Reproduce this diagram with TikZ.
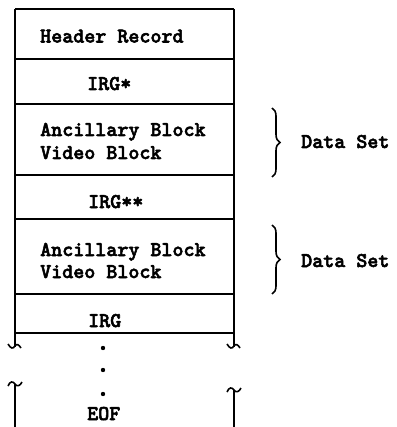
\documentclass[tikz,border=0pt]{standalone}
\usepackage{fontspec}
\newfontfamily\tapefont{lmmonolt10-bold.otf}[FakeBold=2.5]
\usetikzlibrary{decorations.pathreplacing}

\tikzset{
  side/.style={line width=1.8pt},
  rule/.style={line width=1.3pt},
  lbl/.style={anchor=base west, inner sep=0pt, font=\fontsize{21}{24}\selectfont\tapefont},
  setbrace/.style={line width=1.6pt, decorate, decoration={brace, amplitude=8pt}},
  wave/.style={line width=1.6pt}
}

\begin{document}
\begin{tikzpicture}[x=1pt, y=-1pt]
  \useasboundingbox (0,0) rectangle (396,427);

  % frame of the tape
  \draw[side] (15,9) -- (15,347);
  \draw[side] (234,9) -- (234,347);
  \foreach \y in {9,59,104,175,219,294,333}
    \draw[rule] (15,\y) -- (234,\y);

  % broken ends
  \draw[wave] (8,344) .. controls (11,349) and (13,349) .. (15,346) .. controls (17,343) and (19,345) .. (21,348);
  \draw[wave] (227,344) .. controls (230,349) and (232,349) .. (234,346) .. controls (236,343) and (238,345) .. (240,348);
  \draw[wave] (8,386) .. controls (10,381) and (13,381) .. (15,384) .. controls (17,387) and (20,386) .. (22,382);
  \draw[wave] (227,392) .. controls (229,387) and (232,387) .. (234,390) .. controls (236,393) and (239,392) .. (241,388);
  \draw[side] (15,384) -- (15,427);
  \draw[side] (234,390) -- (234,427);

  % records
  \node[lbl] (hdr)  at (40,42.5) {Header Record};
  \node[lbl] (irgA) at (87,90)   {IRG*};
  \node[lbl] (anc1) at (40,136)  {Ancillary Block};
  \node[lbl] (vid1) at (40,159)  {Video Block};
  \node[lbl] (irgB) at (88,208)  {IRG**};
  \node[lbl] (anc2) at (40,256)  {Ancillary Block};
  \node[lbl] (vid2) at (40,278)  {Video Block};
  \node[lbl] (irg)  at (88,327)  {IRG};
  \node[lbl] (eof)  at (87,420)  {EOF};

  % dots
  \foreach \y in {348,370,394}
    \fill (103,\y) circle (2.2);

  % data sets
  \coordinate (b1top) at (272,108);
  \coordinate (b1bot) at (272,177);
  \coordinate (b2top) at (272,225);
  \coordinate (b2bot) at (272,294);
  \draw[setbrace] (b1top) -- (b1bot);
  \draw[setbrace] (b2top) -- (b2bot);
  \node[lbl] (ds1) at (301,148) {Data Set};
  \node[lbl] (ds2) at (301,267) {Data Set};
\end{tikzpicture}
\end{document}
